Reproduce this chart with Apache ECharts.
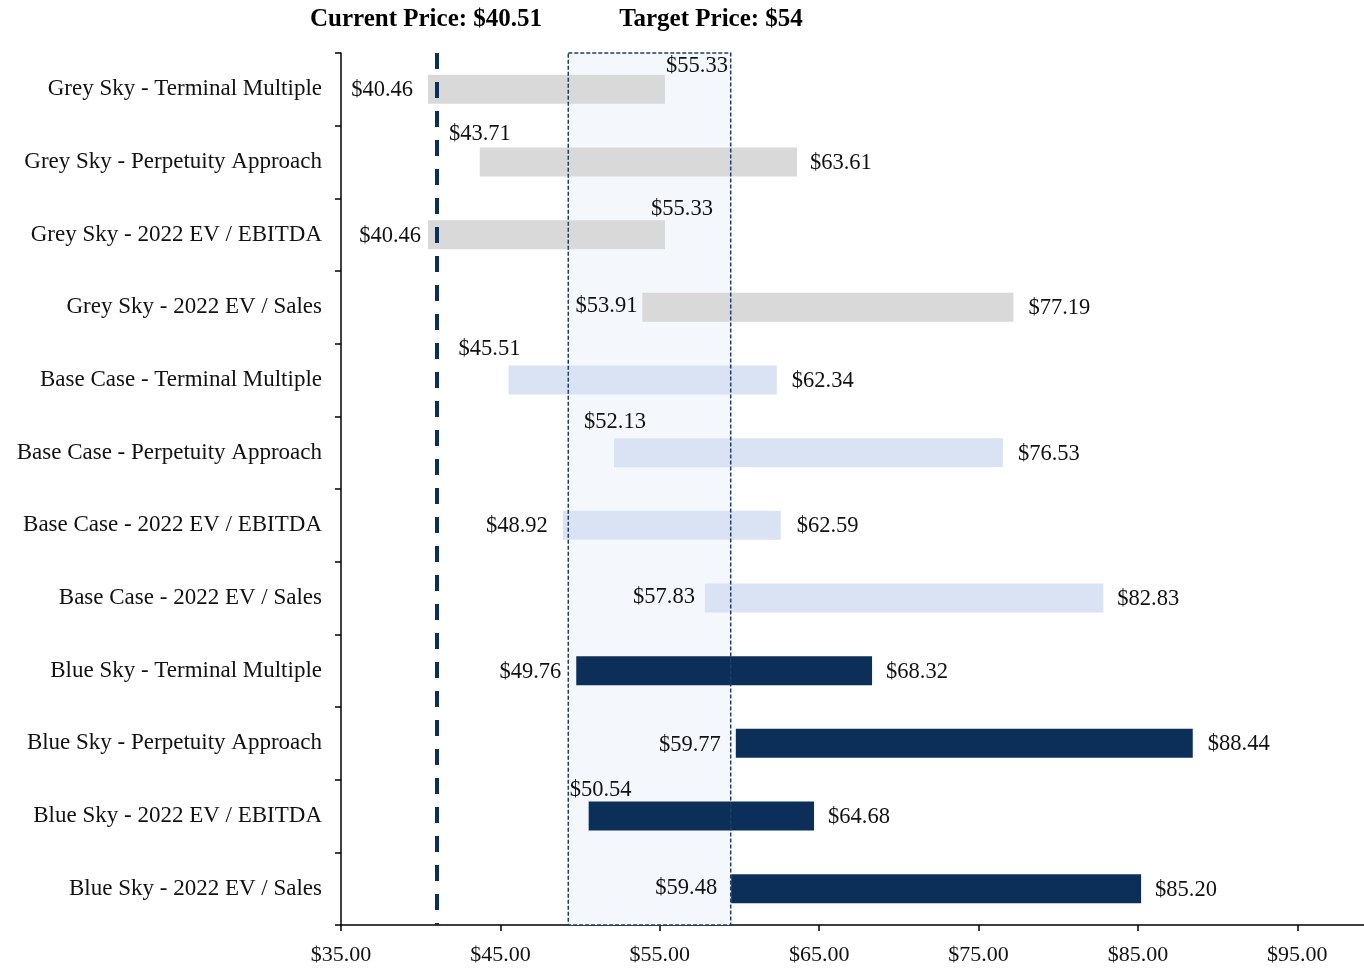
<!DOCTYPE html>
<html>
<head>
<meta charset="utf-8">
<script src="https://cdn.jsdelivr.net/npm/echarts@6/dist/echarts.min.js"></script>
<style>html,body{margin:0;padding:0;background:#fff}#chart{width:1364px;height:969px}</style>
</head>
<body>
<div id="chart"></div>
<script>
// ---------------- DATA ----------------
const categories = [
  'Grey Sky - Terminal Multiple',
  'Grey Sky - Perpetuity Approach',
  'Grey Sky - 2022 EV / EBITDA',
  'Grey Sky - 2022 EV / Sales',
  'Base Case - Terminal Multiple',
  'Base Case - Perpetuity Approach',
  'Base Case - 2022 EV / EBITDA',
  'Base Case - 2022 EV / Sales',
  'Blue Sky - Terminal Multiple',
  'Blue Sky - Perpetuity Approach',
  'Blue Sky - 2022 EV / EBITDA',
  'Blue Sky - 2022 EV / Sales'
];
const lowValues  = [40.46, 43.71, 40.46, 53.91, 45.51, 52.13, 48.92, 57.83, 49.76, 59.77, 50.54, 59.48];
const highValues = [55.33, 63.61, 55.33, 77.19, 62.34, 76.53, 62.59, 82.83, 68.32, 88.44, 64.68, 85.20];
const currentPrice = 40.51;
const targetPrice = 54;
const currentPriceMarker = 41.0;        // where the dashed line sits on the axis
const targetRange = [49.26, 59.45];     // shaded target box
const xAxisMin = 35, xAxisMax = 100, xAxisInterval = 10;

// ---------------- STYLE / LAYOUT ----------------
const FONT = '"Liberation Serif", "Times New Roman", serif';
const TEXT = '#111111';
const NAVY = '#0c2f59';
const scenarioColors = { 'Grey Sky': '#d9d9d9', 'Base Case': '#dae3f3', 'Blue Sky': NAVY };
// label placement: [kind, dx, dy]
const lowPlace = [
  ['left', 15, 1], ['above', 0, -28], ['left', 7, 1], ['left', 5, -1],
  ['above', -19, -31], ['above', 1, -31], ['left', 15, 1], ['left', 10, -1],
  ['left', 15, 1], ['left', 15, 2], ['above', 12, -26], ['left', 14, -1]
];
const highPlace = [
  ['right', 1, -23], ['right', 13, 1], ['above', 17, -26], ['right', 15, 1],
  ['right', 15, 1], ['right', 15, 1], ['right', 16, 1], ['right', 14, 1],
  ['right', 14, 1], ['right', 15, 1], ['right', 14, 1], ['right', 14, 1]
];

function labelCfg(p) {
  const kind = p[0], dx = p[1], dy = p[2];
  const base = { show: true, position: 'inside', verticalAlign: 'middle',
    color: TEXT, opacity: 1, textBorderWidth: 0, textBorderColor: 'transparent', textShadowBlur: 0,
    fontFamily: FONT, fontSize: 22.5,
    formatter: function (prm) { return '$' + prm.value[0].toFixed(2); } };
  if (kind === 'left') return Object.assign(base, { align: 'right', offset: [-dx, dy] });
  if (kind === 'right') return Object.assign(base, { align: 'left', offset: [dx, dy] });
  return Object.assign(base, { align: 'center', offset: [dx, dy] });
}

const rangeData = categories.map(function (c, i) {
  return { value: +(highValues[i] - lowValues[i]).toFixed(2),
           itemStyle: { color: scenarioColors[c.split(' - ')[0]] } };
});
const labelData = [];
categories.forEach(function (c, i) {
  labelData.push({ value: [lowValues[i], c], label: labelCfg(lowPlace[i]) });
  labelData.push({ value: [highValues[i], c], label: labelCfg(highPlace[i]) });
});

const chart = echarts.init(document.getElementById('chart'), null, { renderer: 'canvas' });
chart.setOption({
  animation: false,
  backgroundColor: '#ffffff',
  grid: { left: 341, top: 53, width: 1036, height: 872, containLabel: false, outerBoundsMode: 'none' },
  graphic: [
    { type: 'text', x: 426, y: 20, style: { text: 'Current Price: $' + currentPrice.toFixed(2),
      font: 'bold 25px ' + FONT, fill: '#000', align: 'center', verticalAlign: 'middle' } },
    { type: 'text', x: 711, y: 20, style: { text: 'Target Price: $' + targetPrice,
      font: 'bold 25px ' + FONT, fill: '#000', align: 'center', verticalAlign: 'middle' } }
  ],
  xAxis: {
    type: 'value', min: xAxisMin, max: xAxisMax, interval: xAxisInterval,
    axisLine: { show: true, lineStyle: { color: '#000', width: 1.5 } },
    axisTick: { show: true, length: 6, lineStyle: { color: '#000', width: 1.5 } },
    splitLine: { show: false },
    axisLabel: { color: TEXT, fontFamily: FONT, fontSize: 22, margin: 19, showMaxLabel: false,
      formatter: function (v) { return v >= xAxisMax ? '' : '$' + v.toFixed(2); } }
  },
  yAxis: {
    type: 'category', inverse: true, data: categories,
    axisLine: { show: true, lineStyle: { color: '#000', width: 1.5 } },
    axisTick: { show: true, length: 6, lineStyle: { color: '#000', width: 1.5 } },
    splitLine: { show: false },
    axisLabel: { color: TEXT, fontFamily: FONT, fontSize: 23, margin: 19 }
  },
  series: [
    {
      name: 'base', type: 'bar', stack: 'r', barWidth: 29, silent: true, z: 1,
      itemStyle: { color: 'transparent' },
      data: lowValues,
      markArea: { silent: true, z: 1,
        itemStyle: { color: '#f4f7fc', borderWidth: 0 },
        data: [[{ xAxis: targetRange[0] }, { xAxis: targetRange[1] }]] }
    },
    {
      name: 'range', type: 'bar', stack: 'r', barWidth: 29, z: 2,
      data: rangeData
    },
    {
      name: 'labels', type: 'scatter', symbolSize: 1, z: 6, silent: true,
      itemStyle: { color: '#ffffff', opacity: 0 },
      label: { show: true, color: TEXT, opacity: 1 },
      data: labelData,
      markArea: { silent: true, z: 6,
        itemStyle: { color: 'rgba(0,0,0,0)', borderColor: '#1d3e66', borderWidth: 1.5, borderType: [4, 2], opacity: 1 },
        data: [[{ xAxis: targetRange[0] }, { xAxis: targetRange[1] }]] },
      markLine: { silent: true, z: 5, symbol: ['none', 'none'], label: { show: false },
        lineStyle: { color: NAVY, width: 4, type: [16, 13], opacity: 1 },
        data: [{ xAxis: currentPriceMarker }] }
    }
  ]
});
</script>
</body>
</html>
